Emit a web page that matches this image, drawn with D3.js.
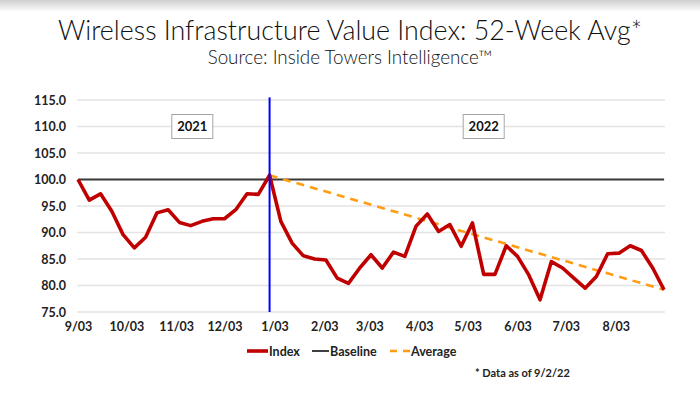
<!DOCTYPE html>
<html>
<head>
<meta charset="utf-8">
<script src="https://cdn.jsdelivr.net/npm/d3@7"></script>
<style>
body{margin:0;background:#fff}
text{font-family:Lato,"Open Sans",sans-serif}
</style>
</head>
<body>
<div id="chart"></div>
<script>
// weekly index values, every Friday from 9/03/2021 to 9/02/2022
const startDate="2021-09-03"
const indexValues=[100.0,96.1,97.3,94.0,89.6,87.1,89.1,93.7,94.3,91.9,91.3,92.1,92.6,92.6,94.3,97.3,97.2,100.8,
92.1,88.0,85.6,85.0,84.8,81.4,80.4,83.3,85.8,83.3,86.3,85.5,91.2,93.5,90.2,91.5,87.4,
91.8,82.1,82.1,87.5,85.5,82.0,77.3,84.5,83.3,81.4,79.5,81.7,86.0,86.1,87.5,86.6,83.3,79.2]
const baselineValue=100
const averageDates=["2021-12-31","2022-09-02"]
const averageValues=[100.8,79.2]
const dividerDate="2021-12-31"
const yearLabels=["2021","2022"]
const yearLabelDates=["2021-11-13","2022-05-13"]
const yTicks=[75,80,85,90,95,100,105,110,115]
const xTickDates=["2021-09-03","2021-10-03","2021-11-03","2021-12-03","2022-01-03","2022-02-03",
"2022-03-03","2022-04-03","2022-05-03","2022-06-03","2022-07-03","2022-08-03"]
const legendItems=["Index","Baseline","Average"]

const width=700
const height=394
const margin={top:100,right:36,bottom:82,left:78}

const parse=d3.timeParse("%Y-%m-%d")
const t0=parse(startDate)
const indexData=indexValues.map((v,i)=>({date:d3.timeDay.offset(t0,7*i),value:v}))
const averageData=averageDates.map((d,i)=>({date:parse(d),value:averageValues[i]}))

const svg=d3.select("#chart").append("svg")
.attr("width",width)
.attr("height",height)

const defs=svg.append("defs")
const grad=defs.append("linearGradient").attr("id","shade").attr("x1",0).attr("x2",0).attr("y1",0).attr("y2",1)
grad.append("stop").attr("offset","0%").attr("stop-color","#cfcfcf")
grad.append("stop").attr("offset","100%").attr("stop-color","#ffffff")
svg.append("rect").attr("width",width).attr("height",12).attr("fill","url(#shade)")

const x=d3.scaleTime()
.domain(d3.extent(indexData,d=>d.date))
.range([margin.left,width-margin.right])

const y=d3.scaleLinear()
.domain([75,115])
.range([height-margin.bottom,margin.top])

// title
svg.append("text")
.attr("x",width/2).attr("y",40)
.attr("text-anchor","middle")
.attr("font-size",26.8)
.attr("font-weight",300)
.attr("fill","#111")
.text("Wireless Infrastructure Value Index: 52-Week Avg*")

svg.append("text")
.attr("x",width/2).attr("y",64)
.attr("text-anchor","middle")
.attr("font-size",18.8)
.attr("font-weight",300)
.attr("fill","#111")
.text("Source: Inside Towers Intelligence™")

// grid
svg.append("g")
.selectAll("line")
.data(yTicks)
.enter()
.append("line")
.attr("x1",margin.left-1)
.attr("x2",width-margin.right+1)
.attr("y1",d=>y(d))
.attr("y2",d=>y(d))
.attr("stroke","#e3e3e3")
.attr("stroke-width",1.3)

// y axis
const yAxis=svg.append("g")
.attr("transform",`translate(${margin.left-12},0)`)
.call(d3.axisLeft(y).tickValues(yTicks).tickFormat(d3.format(".1f")).tickSize(0).tickPadding(0))
yAxis.select(".domain").remove()
yAxis.selectAll("text")
.attr("font-size",12.5)
.attr("font-weight","bold")
.attr("fill","#222")

// x axis
const xAxis=svg.append("g")
.attr("transform",`translate(0,${height-margin.bottom+10})`)
.call(d3.axisBottom(x).tickValues(xTickDates.map(parse)).tickFormat(d3.timeFormat("%-m/%d")).tickSize(0).tickPadding(0))
xAxis.select(".domain").remove()
xAxis.selectAll("text")
.attr("font-size",12.5)
.attr("font-weight","bold")
.attr("fill","#222")
.attr("dy","0.71em")

// baseline
svg.append("line")
.attr("x1",x(indexData[0].date))
.attr("x2",x(indexData[indexData.length-1].date))
.attr("y1",y(baselineValue))
.attr("y2",y(baselineValue))
.attr("stroke","#3a3a3a")
.attr("stroke-width",2)

// year boxes
const boxes=svg.append("g")
.selectAll("g")
.data(yearLabels)
.enter()
.append("g")
.attr("transform",(d,i)=>`translate(${x(parse(yearLabelDates[i]))},${y(110)})`)
boxes.append("rect")
.attr("x",-20.5).attr("y",-12)
.attr("width",41).attr("height",24)
.attr("fill","#fff")
.attr("stroke","#a6a6a6")
.attr("stroke-width",1)
boxes.append("text")
.attr("text-anchor","middle")
.attr("dy","0.36em")
.attr("font-size",13)
.attr("font-weight","bold")
.attr("fill","#111")
.text(d=>d)

// average dashed line
svg.append("path")
.datum(averageData)
.attr("fill","none")
.attr("stroke","#ff9c12")
.attr("stroke-width",2.6)
.attr("stroke-dasharray","8,6")
.attr("d",d3.line().x(d=>x(d.date)).y(d=>y(d.value)))

// index line
svg.append("path")
.datum(indexData)
.attr("fill","none")
.attr("stroke","#c00000")
.attr("stroke-width",3.6)
.attr("stroke-linejoin","round")
.attr("d",d3.line().x(d=>x(d.date)).y(d=>y(d.value)))

// divider
svg.append("line")
.attr("x1",x(parse(dividerDate)))
.attr("x2",x(parse(dividerDate)))
.attr("y1",y(115.5))
.attr("y2",y(75))
.attr("stroke","#0000ff")
.attr("stroke-width",2)

// legend
const legendX=[247,312,390]
const legendStyles=[
{stroke:"#c00000",w:3.6,dash:null,len:21},
{stroke:"#111",w:1.6,dash:null,len:17},
{stroke:"#ff9c12",w:2.6,dash:"7,6",len:20}
]
const legend=svg.append("g")
.selectAll("g")
.data(legendItems)
.enter()
.append("g")
.attr("transform",(d,i)=>`translate(${legendX[i]},351)`)
legend.append("line")
.attr("x1",0)
.attr("x2",(d,i)=>legendStyles[i].len)
.attr("stroke",(d,i)=>legendStyles[i].stroke)
.attr("stroke-width",(d,i)=>legendStyles[i].w)
.attr("stroke-dasharray",(d,i)=>legendStyles[i].dash)
legend.append("text")
.attr("x",(d,i)=>legendStyles[i].len+1)
.attr("dy","0.36em")
.attr("font-size",12.5)
.attr("font-weight","bold")
.attr("fill","#222")
.text(d=>d)

svg.append("text")
.attr("x",475).attr("y",377)
.attr("font-size",11)
.attr("font-weight","bold")
.attr("fill","#222")
.text("* Data as of 9/2/22")
</script>
</body>
</html>
